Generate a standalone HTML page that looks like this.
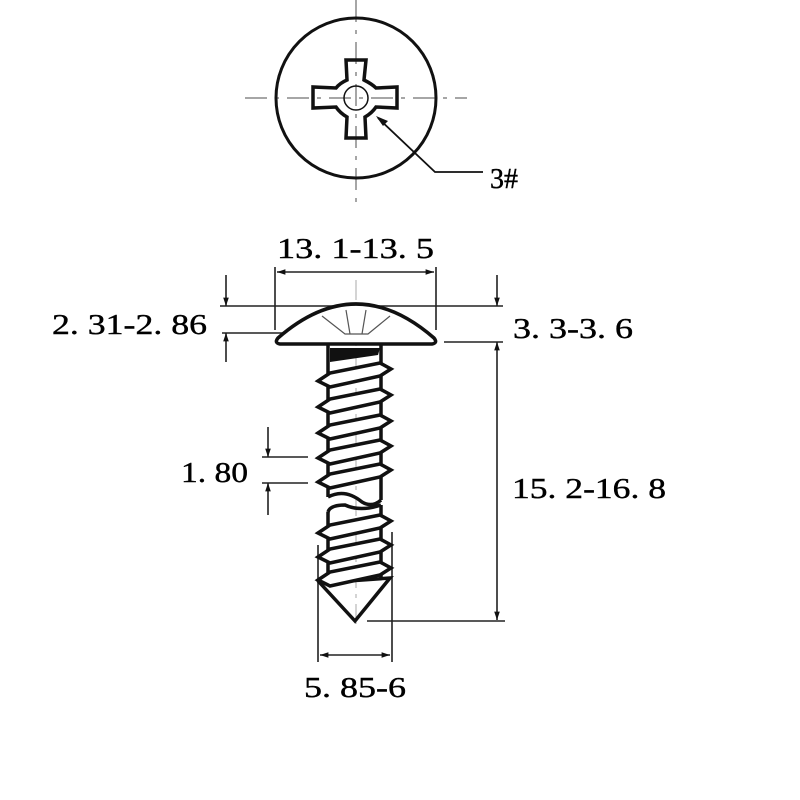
<!DOCTYPE html>
<html><head><meta charset="utf-8"><style>
html,body{margin:0;padding:0;background:#fff;}
svg{display:block;}
text{font-family:"Liberation Serif",serif;fill:#000;stroke:#000;stroke-width:0.4;}
</style></head><body>
<svg width="800" height="800" viewBox="0 0 800 800" xmlns="http://www.w3.org/2000/svg">
<defs>
<marker id="a" viewBox="0 0 12 10" refX="12" refY="5" markerWidth="12" markerHeight="7" orient="auto-start-reverse" markerUnits="userSpaceOnUse"><path d="M0,1 L12,5 L0,9 z" fill="#111"/></marker>
</defs>
<!-- top view -->
<g stroke="#888" stroke-width="1.5" stroke-dasharray="22,8,4,8">
<line x1="356" y1="0" x2="356" y2="205"/>
<line x1="245" y1="98" x2="467" y2="98"/>
</g>
<circle cx="356" cy="98" r="80" fill="none" stroke="#111" stroke-width="3"/>
<path d="M346,60 H366 L364,80 Q372,84 376,88 L397,87 V108 L376,107 Q372,113 365,117 L366,138 H346 L347,117 Q340,113 336,107 L313,108 V87 L336,88 Q340,83 347,80 Z" fill="none" stroke="#111" stroke-width="3.5"/>
<circle cx="356" cy="98" r="12" fill="none" stroke="#111" stroke-width="1.5"/>
<polyline points="378,118 435,172 483,172" fill="none" stroke="#111" stroke-width="1.8"/>
<path d="M376,116 L388,121 L383,126 Z" fill="#111"/>
<text x="490" y="188" font-size="28">3#</text>

<!-- dimension lines -->
<g stroke="#222" stroke-width="1.6" fill="none">
<line x1="275" y1="267" x2="275" y2="330"/>
<line x1="436" y1="267" x2="436" y2="330"/>
<line x1="277" y1="272" x2="434" y2="272" marker-start="url(#a)" marker-end="url(#a)"/>
<line x1="220" y1="306" x2="503" y2="306"/>
<line x1="222" y1="333" x2="330" y2="333"/>
<line x1="444" y1="342" x2="503" y2="342"/>
<line x1="226" y1="275" x2="226" y2="306" marker-end="url(#a)"/>
<line x1="226" y1="362" x2="226" y2="333" marker-end="url(#a)"/>
<line x1="497" y1="275" x2="497" y2="306" marker-end="url(#a)"/>
<line x1="497" y1="342" x2="497" y2="620" marker-start="url(#a)" marker-end="url(#a)"/>
<line x1="367" y1="621" x2="505" y2="621"/>
<line x1="262" y1="457" x2="308" y2="457"/>
<line x1="262" y1="483" x2="308" y2="483"/>
<line x1="268" y1="427" x2="268" y2="457" marker-end="url(#a)"/>
<line x1="268" y1="515" x2="268" y2="483" marker-end="url(#a)"/>
<line x1="318" y1="545" x2="318" y2="662"/>
<line x1="392" y1="532" x2="392" y2="662"/>
<line x1="320" y1="655" x2="390" y2="655" marker-start="url(#a)" marker-end="url(#a)"/>
</g>
<line x1="356" y1="280" x2="356" y2="630" stroke="#aaa" stroke-width="1" stroke-dasharray="20,6,4,6"/>

<!-- head -->
<path d="M278,338 Q356,270 434,338 Q438,343 432,344 H280 Q274,343 278,338 Z" fill="#fff" stroke="#111" stroke-width="3.5"/>
<g stroke="#555" stroke-width="1.2" fill="none">
<path d="M322,316 L345,334 L368,334 L390,316"/>
<line x1="346" y1="310" x2="350" y2="334"/><line x1="366" y1="310" x2="362" y2="334"/>
</g>

<!-- shank -->
<g stroke="#111" stroke-width="3.5" fill="none">
<line x1="328" y1="345" x2="328" y2="497"/>
<line x1="381" y1="345" x2="381" y2="500"/>
<line x1="328" y1="512" x2="328" y2="582"/>
<line x1="381" y1="505" x2="381" y2="578"/>
<path d="M328,497 Q345,488 362,502 Q372,508 381,500"/>
<path d="M328,512 Q330,505 345,505 Q360,512 381,505"/>
<path d="M320,583 L390,578 L355,621 Z"/>
</g>
<path d="M330,348 H380 L378,355 L330,362 Z" fill="#111"/>
<g fill="#fff" stroke="#111" stroke-width="3.5" stroke-linejoin="miter">
<path d="M318,381 l12,-8 l50,-10 l11,6 l-11,7 l-50,11 z"/>
<path d="M318,407 l12,-8 l50,-10 l11,6 l-11,7 l-50,11 z"/>
<path d="M318,433 l12,-8 l50,-10 l11,6 l-11,7 l-50,11 z"/>
<path d="M318,458 l12,-8 l50,-10 l11,6 l-11,7 l-50,11 z"/>
<path d="M318,482 l12,-8 l50,-10 l11,6 l-11,7 l-50,11 z"/>
<path d="M318,533 l12,-8 l50,-10 l11,6 l-11,7 l-50,11 z"/>
<path d="M318,557 l12,-8 l50,-10 l11,6 l-11,7 l-50,11 z"/>
<path d="M318,580 l12,-8 l50,-10 l11,6 l-11,7 l-50,11 z"/>
</g>

<!-- labels -->
<text x="277" y="258" font-size="29" textLength="157" lengthAdjust="spacingAndGlyphs">13. 1-13. 5</text>
<text x="52" y="334" font-size="29" textLength="155" lengthAdjust="spacingAndGlyphs">2. 31-2. 86</text>
<text x="513" y="338" font-size="29" textLength="120" lengthAdjust="spacingAndGlyphs">3. 3-3. 6</text>
<text x="181" y="482" font-size="29" textLength="67" lengthAdjust="spacingAndGlyphs">1. 80</text>
<text x="512" y="498" font-size="29" textLength="154" lengthAdjust="spacingAndGlyphs">15. 2-16. 8</text>
<text x="304" y="697" font-size="29" textLength="102" lengthAdjust="spacingAndGlyphs">5. 85-6</text>
</svg>
</body></html>
